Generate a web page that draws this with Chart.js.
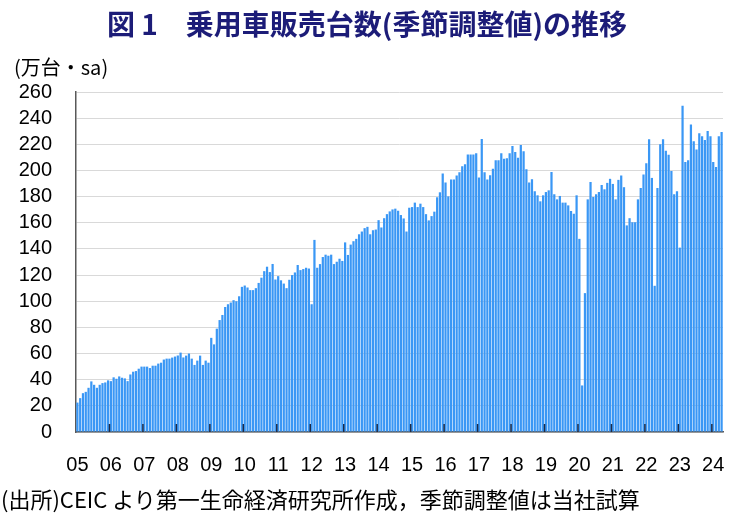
<!DOCTYPE html>
<html>
<head>
<meta charset="utf-8">
<script src="https://cdn.jsdelivr.net/npm/chart.js@4.4.1/dist/chart.umd.min.js"></script>
<style>
body { margin: 0; background: #fff; }
#wrap { position: relative; width: 734px; height: 517px; overflow: hidden; font-family: 'Noto Sans CJK JP', sans-serif; }
#title { position: absolute; left: 0; top: 3px; width: 734px; text-align: center; font-size: 28px; font-weight: bold; color: #1c1c78; white-space: nowrap; }
#unit { position: absolute; left: 14px; top: 52px; font-size: 20px; color: #000; white-space: nowrap; }
#note { position: absolute; left: 1px; top: 482px; font-size: 22px; color: #000; white-space: nowrap; }
canvas { position: absolute; left: 0; top: 0; }
</style>
</head>
<body>
<div id="wrap">
  <canvas id="canvas" width="734" height="517"></canvas>
  <div id="title">図 1　乗用車販売台数(季節調整値)の推移</div>
  <div id="unit">(万台・sa)</div>
  <div id="note">(出所)CEIC より第一生命経済研究所作成，季節調整値は当社試算</div>
</div>
<script>
// 年ラベル (x軸)
var yearLabels = ['05','06','07','08','09','10','11','12','13','14','15','16','17','18','19','20','21','22','23','24'];

// 月次の販売台数 (万台, 季節調整値) 年ごと
var y05 = [22.5, 25.9, 29.7, 30.7, 33.8, 38.7, 36.1, 33.8, 36.1, 37.4, 37.9, 39.5];
var y06 = [38.9, 41.8, 40.7, 42.5, 41.5, 41, 38.9, 44, 46.1, 46.6, 48.4, 50];
var y07 = [50, 50, 48.9, 50.7, 50.7, 52.3, 53, 55.4, 56.1, 56.1, 56.9, 57.7];
var y08 = [58.5, 60.7, 57, 58.4, 60, 56.1, 51.3, 54.6, 58.4, 51.3, 54.6, 53];
var y09 = [72, 67, 79, 85.6, 89.5, 95.6, 97.7, 99, 100.8, 100, 103.8, 111];
var y10 = [112, 110.5, 108.5, 108.5, 110, 114, 118, 123, 126.4, 122.3, 128.5, 116.6];
var y11 = [119.2, 116, 113.5, 110, 116.4, 120, 122, 127.7, 123.8, 124.6, 125.6, 125];
var y12 = [97.7, 146.9, 125.6, 128.4, 133.8, 135.6, 134.8, 135.6, 128.4, 130.2, 132.5, 130.8];
var y13 = [145, 135.4, 143.3, 145.9, 147.7, 151.2, 153.3, 155.9, 156.9, 151.2, 154.3, 154.8];
var y14 = [162, 156.4, 163.5, 166.6, 168.7, 170.2, 170.8, 169.2, 165.9, 163.3, 153.3, 171.5];
var y15 = [172, 175.4, 172, 174.6, 172, 166.6, 161.8, 165.1, 168.5, 179.5, 183.3, 197.7];
var y16 = [190.8, 180.2, 193.1, 193.1, 196.2, 198.7, 203.3, 204.8, 212.3, 212.3, 212.3, 213.1];
var y17 = [194.6, 224.1, 198.7, 193.1, 196.4, 201.3, 207.9, 207.9, 213.1, 208.9, 209.4, 213.1];
var y18 = [218.7, 214.1, 209.7, 219.5, 214.6, 201, 190.8, 193.3, 184.1, 181, 176.4, 181];
var y19 = [183.5, 184.8, 198.9, 181.8, 177.9, 180.5, 175.4, 175.4, 173.3, 169, 166.9, 181];
var y20 = [147.7, 35.6, 106.2, 177.9, 191.2, 179.7, 181.8, 183.5, 188.9, 185.6, 190.5, 193.6];
var y21 = [189.7, 177.9, 192.8, 196.2, 187.2, 158, 163.5, 160.4, 160.4, 177.9, 186.6, 197];
var y22 = [205.6, 223.8, 194.3, 111.8, 186.6, 220, 223.8, 215.1, 212, 199.5, 181.8, 184.1];
var y23 = [141, 249.5, 206.4, 207.9, 235.1, 222.3, 216.1, 228.4, 226.1, 223.3, 230.2, 226.1];
var y24 = [206.4, 202.6, 226.1, 229.5];

var sales = [].concat(y05, y06, y07, y08, y09, y10, y11, y12, y13, y14,
                      y15, y16, y17, y18, y19, y20, y21, y22, y23, y24);

// カテゴリ (年-月)
var months = sales.map(function (v, i) {
    return yearLabels[Math.floor(i / 12)] + '-' + (i % 12 + 1);
});

var tickFont = { family: "'Liberation Sans', Arial, sans-serif", size: 20 };

// 年の区切りの目盛り (軸の内側)
var yearTicks = {
    id: 'yearTicks',
    afterDatasetsDraw: function (chart) {
        var xs = chart.scales.x, ctx = chart.ctx, bottom = chart.chartArea.bottom;
        ctx.save();
        ctx.strokeStyle = '#1f2b45';
        ctx.lineWidth = 1.5;
        for (var i = 12; i < sales.length; i += 12) {
            var px = (xs.getPixelForValue(i - 1) + xs.getPixelForValue(i)) / 2;
            ctx.beginPath();
            ctx.moveTo(px, bottom);
            ctx.lineTo(px, bottom - 8);
            ctx.stroke();
        }
        ctx.restore();
    }
};

config = {
    type: 'bar',
    data: {
        labels: months,
        datasets: [{
            label: '乗用車販売台数',
            data: sales,
            backgroundColor: '#3a97f5',
            barPercentage: 0.8,
            categoryPercentage: 1.0
        }]
    },
    options: {
        responsive: false,
        animation: false,
        layout: { padding: { left: 6, right: 11, top: 92, bottom: 19 } },
        plugins: { legend: { display: false }, tooltip: { enabled: false } },
        scales: {
            x: {
                grid: { drawOnChartArea: false, drawTicks: false },
                border: { color: '#595959', width: 1.5 },
                ticks: {
                    autoSkip: false,
                    maxRotation: 0,
                    padding: 21,
                    color: '#000',
                    font: tickFont,
                    callback: function (val, index) {
                        return index % 12 === 0 ? yearLabels[index / 12] : '';
                    }
                },
                afterFit: function (scale) { scale.paddingLeft = 0; scale.paddingRight = 0; }
            },
            y: {
                min: 0,
                max: 260,
                grid: { color: '#d9d9d9', drawTicks: false },
                border: { color: '#595959', width: 1.5 },
                ticks: { stepSize: 20, autoSkip: false, padding: 24, color: '#000', font: tickFont },
                afterFit: function (scale) { scale.width = 70; }
            }
        }
    },
    plugins: [yearTicks]
};

window.onload = function () {
    var ctx = document.getElementById('canvas').getContext('2d');
    window.myBar = new Chart(ctx, config);
};
</script>
</body>
</html>
